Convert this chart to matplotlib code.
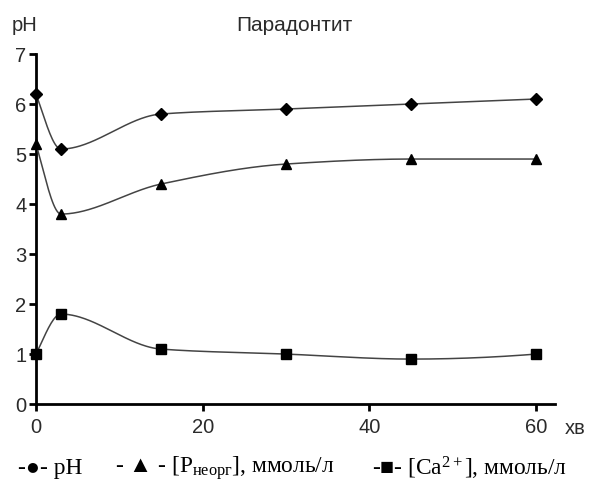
import numpy as np
import matplotlib
matplotlib.use("Agg")
import matplotlib.pyplot as plt

plt.rcParams['mathtext.fontset'] = 'custom'
plt.rcParams['mathtext.rm'] = 'Liberation Serif'
plt.rcParams['mathtext.it'] = 'Liberation Serif:italic'

# Time, minutes
minutes = [0, 3, 15, 30, 45, 60]
# Measured values
ph_values = [6.2, 5.1, 5.8, 5.9, 6.0, 6.1]
p_values = [5.2, 3.8, 4.4, 4.8, 4.9, 4.9]
ca_values = [1.0, 1.8, 1.1, 1.0, 0.9, 1.0]

x_ticks = [0, 20, 40, 60]
y_ticks = [0, 1, 2, 3, 4, 5, 6, 7]
title = "Парадонтит"
legend_labels = ["-\u25CF- pH",
                 "- \u25B2 - [P$_{\\mathrm{неорг}}$], ммоль/л",
                 "-\u25A0- [Ca$^{2+}$], ммоль/л"]


def pchip(x, y, n=400):
    """Monotone piecewise cubic Hermite interpolation (Fritsch-Carlson)."""
    x = np.asarray(x, float)
    y = np.asarray(y, float)
    h = np.diff(x)
    delta = np.diff(y) / h
    k = len(x)
    d = np.zeros(k)
    for i in range(1, k - 1):
        if delta[i - 1] * delta[i] <= 0:
            d[i] = 0.0
        else:
            w1 = 2 * h[i] + h[i - 1]
            w2 = h[i] + 2 * h[i - 1]
            d[i] = (w1 + w2) / (w1 / delta[i - 1] + w2 / delta[i])

    def end_slope(h0, h1, d0, d1):
        s = ((2 * h0 + h1) * d0 - h0 * d1) / (h0 + h1)
        if np.sign(s) != np.sign(d0):
            s = 0.0
        elif np.sign(d0) != np.sign(d1) and abs(s) > abs(3 * d0):
            s = 3 * d0
        return s

    d[0] = end_slope(h[0], h[1], delta[0], delta[1])
    d[-1] = end_slope(h[-1], h[-2], delta[-1], delta[-2])

    xs = np.linspace(x[0], x[-1], n)
    ys = np.empty_like(xs)
    for j, xv in enumerate(xs):
        i = min(np.searchsorted(x, xv, side='right') - 1, k - 2)
        t = (xv - x[i]) / h[i]
        h00 = 2 * t**3 - 3 * t**2 + 1
        h10 = t**3 - 2 * t**2 + t
        h01 = -2 * t**3 + 3 * t**2
        h11 = t**3 - t**2
        ys[j] = h00 * y[i] + h10 * h[i] * d[i] + h01 * y[i + 1] + h11 * h[i] * d[i + 1]
    return xs, ys


fig = plt.figure(figsize=(5.94, 4.91), dpi=100)
ax = fig.add_axes([0.0606, 0.177, 0.874, 0.713])

series = [(ph_values, 'D', 6), (p_values, '^', 7.5), (ca_values, 's', 6.5)]
for vals, mk, ms in series:
    xs, ys = pchip(minutes, vals)
    ax.plot(xs, ys, color='#444444', lw=1.1, clip_on=False, zorder=3)
    ax.plot(minutes, vals, linestyle='none', marker=mk, ms=ms, color='black',
            clip_on=False, zorder=4)

ax.set_xlim(0, 62.3)
ax.set_ylim(0, 7)
ax.set_xticks(x_ticks)
ax.set_yticks(y_ticks)
for s in ['top', 'right']:
    ax.spines[s].set_visible(False)
for s in ['left', 'bottom']:
    ax.spines[s].set_linewidth(2)
ax.tick_params(direction='out', length=5, width=2, labelsize=14.5,
               labelcolor='#2b2b2b')
ax.tick_params(axis='y', pad=2)
ax.tick_params(axis='x', pad=5)
for lab in ax.get_xticklabels() + ax.get_yticklabels():
    lab.set_fontfamily('Liberation Sans')

fig.text(0.020, 0.949, "pH", fontsize=14.5, family='Liberation Sans',
         color='#2b2b2b', ha='left', va='center')
fig.text(0.496, 0.949, title, fontsize=15, family='Liberation Sans',
         color='#2b2b2b', ha='center', va='center')
fig.text(0.951, 0.128, "хв", fontsize=14.5, family='Liberation Sans',
         color='#2b2b2b', ha='left', va='center')

legend_x = [0.030, 0.194, 0.626]
for xpos, label in zip(legend_x, legend_labels):
    fig.text(xpos, 0.046, label, fontsize=16.8,
             family=['Liberation Serif', 'DejaVu Sans'],
             color='black', ha='left', va='center')

fig.savefig("out.png", dpi=100)
